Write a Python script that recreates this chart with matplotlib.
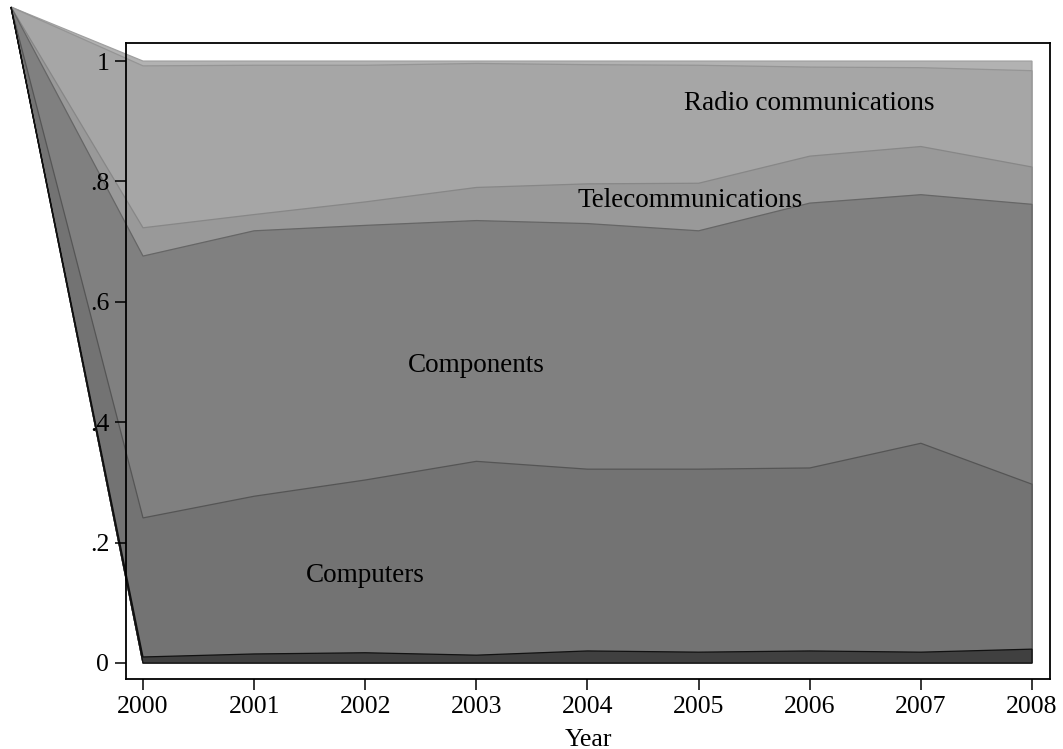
import numpy as np
import matplotlib
matplotlib.use("Agg")
import matplotlib.pyplot as plt

plt.rcParams['font.family'] = ['Liberation Serif', 'DejaVu Serif']

years = [2000, 2001, 2002, 2003, 2004, 2005, 2006, 2007, 2008]

# share of each sector per year, bottom of the stack first
other_low = [0.010, 0.015, 0.017, 0.013, 0.020, 0.018, 0.020, 0.018, 0.023]
computers = [0.231, 0.262, 0.287, 0.322, 0.302, 0.304, 0.304, 0.347, 0.274]
components = [0.435, 0.441, 0.423, 0.400, 0.408, 0.396, 0.440, 0.413, 0.465]
telecom = [0.047, 0.027, 0.039, 0.055, 0.066, 0.079, 0.078, 0.080, 0.062]
radio = [0.269, 0.248, 0.227, 0.206, 0.198, 0.196, 0.148, 0.131, 0.160]
other_high = [0.008, 0.007, 0.007, 0.004, 0.006, 0.007, 0.010, 0.011, 0.016]

layers = [other_low, computers, components, telecom, radio, other_high]
fills = ['#404040', '#737373', '#808080', '#999999', '#a6a6a6', '#b2b2b2']
edges = ['#111111', '#555555', '#666666', '#878787', '#959595', '#a0a0a0']

labels = ["Computers", "Components", "Telecommunications", "Radio communications"]
label_x = [2002, 2003, 2004.92, 2006]
label_y = [0.146, 0.495, 0.769, 0.929]

yticks = [0, 0.2, 0.4, 0.6, 0.8, 1]
ytick_labels = ["0", ".2", ".4", ".6", ".8", "1"]

W, H = 1063, 749
fig = plt.figure(figsize=(W / 100, H / 100), dpi=100)
ax = fig.add_axes([126 / W, 1 - 679 / H, (1050 - 126) / W, (679 - 43) / H])
ax.set_xlim(1999.847, 2008.162)
ax.set_ylim(-0.0266, 1.030)
ax.set_axisbelow(False)

tops = np.cumsum(np.array(layers), axis=0)

# polygons fan out from the page corner, as in the original export
corner = ax.transData.inverted().transform(
    fig.transFigure.transform((11 / W, 1 - 7 / H)))

yrs = np.array(years, dtype=float)
for k in range(len(layers) - 1, -1, -1):
    xs = np.concatenate([[corner[0]], yrs, yrs[::-1]])
    ys = np.concatenate([[corner[1]], tops[k], np.zeros(len(yrs))])
    ax.fill(xs, ys, facecolor=fills[k], edgecolor=edges[k],
            linewidth=0.9, clip_on=False, zorder=1)

for t, x, y in zip(labels, label_x, label_y):
    ax.text(x, y, t, ha='center', va='center', fontsize=19.5, color='black', zorder=3)

ax.set_xticks(years)
ax.set_xticklabels([str(y) for y in years])
ax.set_yticks(yticks)
ax.set_yticklabels(ytick_labels)
ax.tick_params(axis='both', direction='out', length=8, width=1.1,
               labelsize=18.5, pad=4, colors='black')
ax.set_xlabel("Year", fontsize=18.5, labelpad=8)

for s in ax.spines.values():
    s.set_linewidth(1.3)
    s.set_color('black')
    s.set_zorder(4)

fig.savefig("out.png", dpi=100)
